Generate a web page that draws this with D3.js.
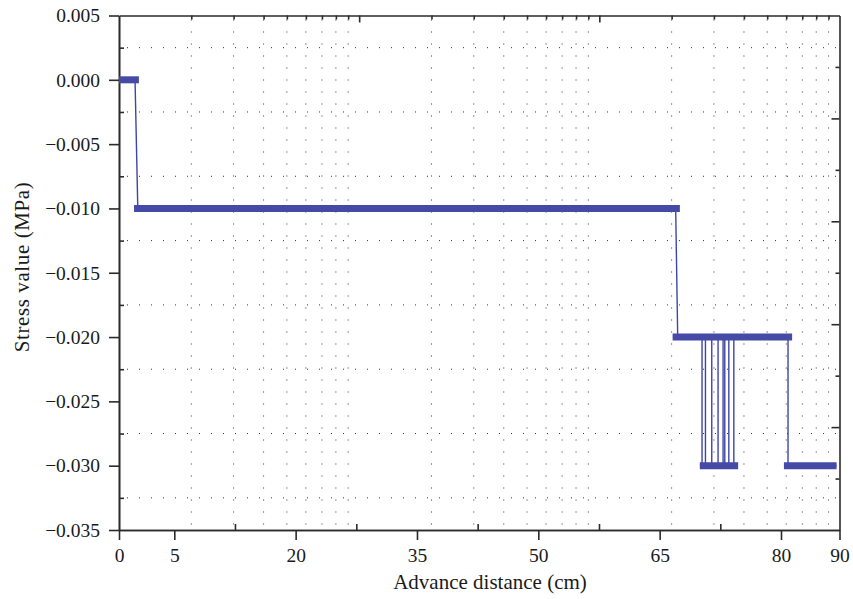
<!DOCTYPE html>
<html>
<head>
<meta charset="utf-8">
<script src="https://cdn.jsdelivr.net/npm/d3@7"></script>
<style>
    body { margin: 0; background: #fff; }
    svg text { font-family: "Liberation Serif", "Times New Roman", serif; fill: #1a1a1a; }
</style>
</head>
<body>
<div id="chart"></div>
<script>
// ---- data ----
// thin connecting line (advance distance in cm, stress in MPa)
const distance = [0, 1.45, 1.7, 66.98, 67.23,
    70.24, 70.24, 70.66, 70.66, 71.44, 71.44, 72.22, 72.22,
    72.84, 72.84, 73.05, 73.05, 73.55, 73.55, 74.17, 74.17,
    81.2, 81.2, 89.5];
const stress = [0, 0, -0.01, -0.01, -0.02,
    -0.02, -0.03, -0.03, -0.02, -0.02, -0.03, -0.03, -0.02,
    -0.02, -0.03, -0.03, -0.02, -0.02, -0.03, -0.03, -0.02,
    -0.02, -0.03, -0.03];

// thick plateaus (dense markers)
const plateauFrom = [0, 1.36, 66.6, 69.96, 80.5];
const plateauTo = [1.8, 67.5, 81.9, 74.7, 89.5];
const plateauStress = [0, -0.01, -0.02, -0.03, -0.03];

// ticks
const xTicks = [0, 5, 20, 35, 50, 65, 80, 90];
const xMinorTicks = [12.5, 27.5, 42.5, 57.5, 72.5];
const yTicks = [0.005, 0, -0.005, -0.01, -0.015, -0.02, -0.025, -0.03, -0.035];
const yMinorTicks = [0.0025, -0.0025, -0.0075, -0.0125, -0.0175, -0.0225, -0.0275, -0.0325];
const rightTicks = [1, 2, 3, 4, 5, 6, 7, 8, 9];

const xLabel = 'Advance distance (cm)';
const yLabel = 'Stress value (MPa)';

// ---- layout ----
const width = 853, height = 599;
const plotLeft = 119, plotRight = 839.5, plotTop = 15.5, plotBottom = 530;
const lineColor = '#3f45a8';
const barColor = '#454aa6';
const axisColor = '#2b2b2b';

const svg = d3.select('#chart').append('svg')
    .attr('width', width).attr('height', height);

// x axis of the original is piecewise (0-5 wider than the rest)
const x = d3.scaleLinear().domain([0, 5, 80, 90]).range([plotLeft, 174.3, 781, plotRight]);
const y = d3.scaleLinear().domain([-0.035, 0.005]).range([plotBottom, plotTop]);
// the dotted grid and the top ticks follow a log scale of 3 decades
const xLog = d3.scaleLog().domain([1, 1000]).range([plotLeft, plotRight]);
const yRight = d3.scaleLinear().domain([0, 10]).range([plotBottom, plotTop]);

const logTicks = xLog.ticks().filter(d => d > 1 && d < 1000);
const isDecade = d => Math.abs(Math.log10(d) - Math.round(Math.log10(d))) < 1e-9;

// grid :
const grid = svg.append('g').attr('stroke', '#333').attr('stroke-width', 1)
    .attr('stroke-dasharray', '1,11');
grid.selectAll('line.h').data(yMinorTicks).join('line').classed('h', true)
    .attr('x1', plotLeft + 8).attr('x2', plotRight)
    .attr('y1', d => y(d)).attr('y2', d => y(d));
grid.selectAll('line.v').data(logTicks.filter(d => !isDecade(d))).join('line').classed('v', true)
    .attr('x1', d => xLog(d)).attr('x2', d => xLog(d))
    .attr('y1', plotTop + 4).attr('y2', plotBottom);

// axes :
function styleAxis(g) {
    g.selectAll('path.domain').attr('stroke', axisColor).attr('stroke-width', 1.6);
    g.selectAll('.tick line').attr('stroke', axisColor).attr('stroke-width', 1.6);
    g.selectAll('text').style('font-size', '19.5px').attr('fill', '#1a1a1a');
}

svg.append('g').attr('transform', `translate(0,${plotBottom})`)
    .call(d3.axisBottom(x).tickValues(xTicks).tickSize(10).tickPadding(8).tickSizeOuter(0))
    .call(styleAxis);
svg.append('g').attr('transform', `translate(0,${plotBottom})`)
    .call(d3.axisTop(x).tickValues(xMinorTicks).tickSize(6).tickFormat('').tickSizeOuter(0))
    .call(styleAxis);

svg.append('g').attr('transform', `translate(${plotLeft},0)`)
    .call(d3.axisLeft(y).tickValues(yTicks).tickSize(10).tickPadding(9)
        .tickFormat(d3.format('.3f')).tickSizeOuter(0))
    .call(styleAxis);
svg.append('g').attr('transform', `translate(${plotLeft},0)`)
    .call(d3.axisRight(y).tickValues(yMinorTicks).tickSize(5).tickFormat('').tickSizeOuter(0))
    .call(styleAxis);

const topAxis = svg.append('g').attr('transform', `translate(0,${plotTop})`)
    .call(d3.axisBottom(xLog).tickValues(logTicks).tickFormat('').tickSizeOuter(0))
    .call(styleAxis);
topAxis.selectAll('.tick line').attr('y2', d => isDecade(d) ? 7 : 4);

const rightAxis = svg.append('g').attr('transform', `translate(${plotRight},0)`)
    .call(d3.axisLeft(yRight).tickValues(rightTicks).tickFormat('').tickSizeOuter(0))
    .call(styleAxis);
rightAxis.selectAll('.tick line').attr('x2', d => d % 2 === 0 ? -8 : -4);

// labels :
svg.append('text')
    .attr('x', 490).attr('y', 589)
    .attr('text-anchor', 'middle')
    .style('font-size', '21px')
    .text(xLabel);
svg.append('text')
    .attr('transform', `translate(29,${267}) rotate(-90)`)
    .attr('text-anchor', 'middle')
    .style('font-size', '21px')
    .style('letter-spacing', '0.6px')
    .text(yLabel);

// series :
const points = distance.map((d, i) => [d, stress[i]]);
svg.append('path')
    .datum(points)
    .attr('fill', 'none')
    .attr('stroke', lineColor)
    .attr('stroke-width', 1.4)
    .attr('d', d3.line().x(d => x(d[0])).y(d => y(d[1])));

svg.append('g').selectAll('line')
    .data(plateauStress.map((s, i) => ({ from: plateauFrom[i], to: plateauTo[i], s })))
    .join('line')
    .attr('x1', d => x(d.from)).attr('x2', d => x(d.to))
    .attr('y1', d => y(d.s)).attr('y2', d => y(d.s))
    .attr('stroke', barColor)
    .attr('stroke-width', 7);
</script>
</body>
</html>
